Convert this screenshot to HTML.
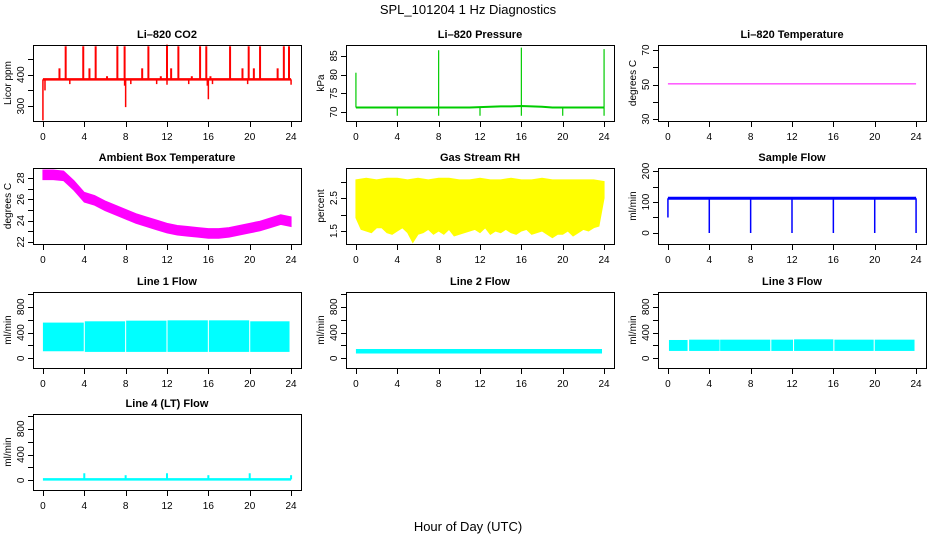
<!DOCTYPE html>
<html><head><meta charset="utf-8"><style>
html,body{margin:0;padding:0;background:#fff;}
svg{display:block;font-family:"Liberation Sans",sans-serif;}
</style></head><body>
<svg id="chart" width="936" height="540" viewBox="0 0 936 540" xmlns="http://www.w3.org/2000/svg">
<rect x="0" y="0" width="936" height="540" fill="#fff"/>
<text x="468" y="14" font-size="13" text-anchor="middle">SPL_101204  1 Hz Diagnostics</text>
<text x="468" y="531" font-size="13" text-anchor="middle">Hour of Day (UTC)</text>
</svg>
<script>
// ---- data ----
const xTicks = [0,4,8,12,16,20,24];
const co2Base = 385;
const co2SpikeHours = [1.6,2.2,3.9,4.5,5.1,6.2,7.2,7.9,9.6,10.2,11.4,12.0,12.4,13.1,14.4,15.2,15.8,16.2,18.1,19.3,19.9,20.4,21.0,22.7,23.3,23.8];
const co2SpikeValues = [420,490,490,420,490,395,490,490,420,490,395,495,420,490,395,490,490,395,490,420,490,420,490,420,490,490];
const co2DipHours = [0.0,0.2,2.6,7.9,8.0,8.5,11.0,12.0,14.1,15.9,16.0,16.4,19.8,24.0];
const co2DipValues = [255,350,370,365,297,370,370,368,370,365,322,370,370,368];
const presBase = [71.2,71.2,71.2,71.2,71.2,71.2,71.2,71.2,71.2,71.2,71.2,71.2,71.3,71.4,71.5,71.5,71.6,71.5,71.4,71.2,71.2,71.2,71.2,71.2,71.2];
const presUpHours = [0,8,16,24];
const presUpValues = [80.5,86.5,87.2,86.8];
const presDownHours = [4,8,12,16,20,24];
const presDownValues = [69.0,69.0,69.0,69.0,69.0,69.0];
const tempValue = 50.4;
const ambMid = [28.3,28.3,28.2,27.3,26.2,25.9,25.4,25.0,24.6,24.2,23.9,23.6,23.3,23.1,23.0,22.9,22.8,22.8,22.9,23.1,23.3,23.5,23.8,24.1,23.9];
const ambHalfWidth = 0.45;
const rhTop = [3.05,3.1,3.05,3.1,3.1,3.05,3.1,3.05,3.1,3.1,3.05,3.05,3.1,3.05,3.05,3.1,3.05,3.05,3.1,3.05,3.05,3.05,3.05,3.05,3.0];
const rhLow = [1.9,1.55,1.5,1.45,1.6,1.6,1.45,1.4,1.5,1.6,1.45,1.15,1.4,1.45,1.55,1.4,1.5,1.4,1.55,1.35,1.4,1.45,1.5,1.55,1.45,1.6,1.4,1.5,1.45,1.55,1.45,1.4,1.5,1.55,1.4,1.45,1.5,1.4,1.3,1.4,1.4,1.5,1.35,1.45,1.55,1.5,1.6,1.65,2.5];
const flowBase = 112;
const flowDipHours = [4,8,12,16,20,24];
const flowDipValues = [0,0,0,0,0,0];
const line1Segments = [[0,3.95,110,555],[4.05,7.95,100,575],[8.05,11.95,100,585],[12.05,15.95,100,590],[16.05,19.95,100,590],[20.05,23.85,100,575]];
const line2Segments = [[0,23.8,75,145]];
const line3Segments = [[0.1,1.9,115,285],[2.05,5.0,115,290],[5.05,9.9,115,290],[10.0,12.1,115,290],[12.2,16.0,115,295],[16.1,19.9,115,290],[20.0,23.85,115,290]];
const line4Base = 15;
const line4SpikeHours = [4,8,12,16,20,24];
const line4SpikeValues = [110,80,110,80,110,80];

// ---- layout ----
const svg = document.getElementById('chart');
const NS = 'http://www.w3.org/2000/svg';
const colX = [33,346,658], boxW = 268;
const rowY = [45,168,292,414], boxH = 76;
function mk(tag, attrs, parent){const e=document.createElementNS(NS,tag);for(const k in attrs)e.setAttribute(k,attrs[k]);(parent||svg).appendChild(e);return e;}

function panel(name,col,row,title,ylab,ylim,ticks,labels){
  const g = mk('g',{});
  
  
  const x0=colX[col], y0=rowY[row];
  const sx = h => x0 + (h+0.96)/25.92*boxW;
  const sy = v => y0 + boxH - (v-ylim[0])/(ylim[1]-ylim[0])*boxH;
  const t = mk('text',{x:x0+boxW/2,y:y0-7,'font-size':11,'font-weight':'bold','text-anchor':'middle'},g);
  t.textContent = title;
  
  
  const yl = mk('text',{transform:`translate(${x0-22},${y0+boxH/2}) rotate(-90)`,'font-size':10,'text-anchor':'middle'},g);
  yl.textContent = ylab;
  
  
  const plot = mk('g',{},g);
  // axes
  const ax = mk('g',{stroke:'#000','stroke-width':1,fill:'none'},g);
  
  
  mk('rect',{x:x0+0.5,y:y0+0.5,width:boxW,height:boxH},ax);
  mk('line',{x1:sx(0),x2:sx(24),y1:y0+boxH+0.5,y2:y0+boxH+0.5},ax);
  xTicks.forEach(h=>{
    mk('line',{x1:Math.round(sx(h))+0.5,x2:Math.round(sx(h))+0.5,y1:y0+boxH,y2:y0+boxH+6},ax);
    const tl = mk('text',{x:sx(h),y:y0+boxH+19,'font-size':10,'text-anchor':'middle',fill:'#000',stroke:'none'},g);
    tl.textContent = h;
    
    
  });
  mk('line',{x1:x0+0.5,x2:x0+0.5,y1:sy(ticks[0]),y2:sy(ticks[ticks.length-1])},ax);
  ticks.forEach(v=>{
    mk('line',{x1:x0-5,x2:x0,y1:Math.round(sy(v))+0.5,y2:Math.round(sy(v))+0.5},ax);
  });
  labels.forEach(v=>{
    const tl = mk('text',{transform:`translate(${x0-9},${sy(v)}) rotate(-90)`,'font-size':10,'text-anchor':'middle',fill:'#000',stroke:'none'},g);
    tl.textContent = v;
    
    
  });
  return {sx,sy,plot};
}
function vline(p,h,v1,v2,color,w){
  const l = mk('line',{x1:p.sx(h),x2:p.sx(h),y1:p.sy(v1),y2:p.sy(v2),stroke:color,'stroke-width':w||1.5},p.plot);
  
  
}
function hline(p,h1,h2,v,color,w){
  const l = mk('line',{x1:p.sx(h1),x2:p.sx(h2),y1:p.sy(v),y2:p.sy(v),stroke:color,'stroke-width':w||1.5},p.plot);
  
  
}
function bandSegs(p,segs,color){
  segs.forEach(s=>{
    const r = mk('rect',{x:p.sx(s[0]),y:p.sy(s[3]),width:p.sx(s[1])-p.sx(s[0]),height:p.sy(s[2])-p.sy(s[3]),fill:color},p.plot);
    
    
  });
}

// CO2
let p = panel('co2-panel',0,0,'Li\u2013820 CO2','Licor ppm',[253,494],[300,350,400,450],[300,400]);
hline(p,0,24,co2Base,'#f00',2.5);
co2SpikeHours.forEach((h,i)=>vline(p,h,co2Base,co2SpikeValues[i],'#f00',2));
co2DipHours.forEach((h,i)=>vline(p,h,co2Base,co2DipValues[i],'#f00',1.5));

// Pressure
p = panel('pressure-panel',1,0,'Li\u2013820 Pressure','kPa',[67.6,87.9],[70,75,80,85],[70,75,80,85]);
{
  let d='';presBase.forEach((v,i)=>{d+=(i?'L':'M')+p.sx(i)+','+p.sy(v);});
  const pa = mk('path',{d,stroke:'#0c0','stroke-width':2,fill:'none'},p.plot);
  
  
}
presUpHours.forEach((h,i)=>vline(p,h,71.2,presUpValues[i],'#0c0',1.2));
presDownHours.forEach((h,i)=>vline(p,h,71.2,presDownValues[i],'#0c0',1.2));

// Li-820 Temperature
p = panel('li820-temp-panel',2,0,'Li\u2013820 Temperature','degrees C',[28.9,72.9],[30,40,50,60,70],[30,50,70]);
hline(p,0,24,tempValue,'#f0f',1);

// Ambient box temp
p = panel('ambient-temp-panel',0,1,'Ambient Box Temperature','degrees C',[21.81,28.94],[22,23,24,25,26,27,28],[22,24,26,28]);
{
  let d='';ambMid.forEach((v,i)=>{d+=(i?'L':'M')+p.sx(i)+','+p.sy(v+ambHalfWidth);});
  for(let i=ambMid.length-1;i>=0;i--) d+='L'+p.sx(i)+','+p.sy(ambMid[i]-ambHalfWidth);
  const pa = mk('path',{d:d+'Z',fill:'#f0f',stroke:'#f0f','stroke-width':1},p.plot);
  
  
}

// RH
p = panel('rh-panel',1,1,'Gas Stream RH','percent',[1.106,3.41],[1.5,2,2.5,3],[1.5,2.5]);
{
  let d='';rhTop.forEach((v,i)=>{d+=(i?'L':'M')+p.sx(i)+','+p.sy(v);});
  for(let i=rhLow.length-1;i>=0;i--) d+='L'+p.sx(i*24/(rhLow.length-1))+','+p.sy(rhLow[i]);
  const pa = mk('path',{d:d+'Z',fill:'#ff0',stroke:'#ff0','stroke-width':1},p.plot);
  
  
}

// Sample flow
p = panel('sample-flow-panel',2,1,'Sample Flow','ml/min',[-35.5,209.7],[0,50,100,150,200],[0,100,200]);
hline(p,0,24,flowBase,'#00f',3);
vline(p,0,50,flowBase,'#00f',1.5);
flowDipHours.forEach((h,i)=>vline(p,h,flowBase,flowDipValues[i],'#00f',1.5));

// Line flows
const flowTicks=[0,200,400,600,800,1000], flowLabels=[0,400,800], flowLim=[-150,1030];
p = panel('line1-flow-panel',0,2,'Line 1 Flow','ml/min',flowLim,flowTicks,flowLabels);
bandSegs(p,line1Segments,'#0ff');
p = panel('line2-flow-panel',1,2,'Line 2 Flow','ml/min',flowLim,flowTicks,flowLabels);
bandSegs(p,line2Segments,'#0ff');
p = panel('line3-flow-panel',2,2,'Line 3 Flow','ml/min',flowLim,flowTicks,flowLabels);
bandSegs(p,line3Segments,'#0ff');
p = panel('line4-flow-panel',0,3,'Line 4 (LT) Flow','ml/min',flowLim,flowTicks,flowLabels);
hline(p,0,24,line4Base,'#0ff',2.5);
line4SpikeHours.forEach((h,i)=>vline(p,h,line4Base,line4SpikeValues[i],'#0ff',2));
</script>
</body></html>
